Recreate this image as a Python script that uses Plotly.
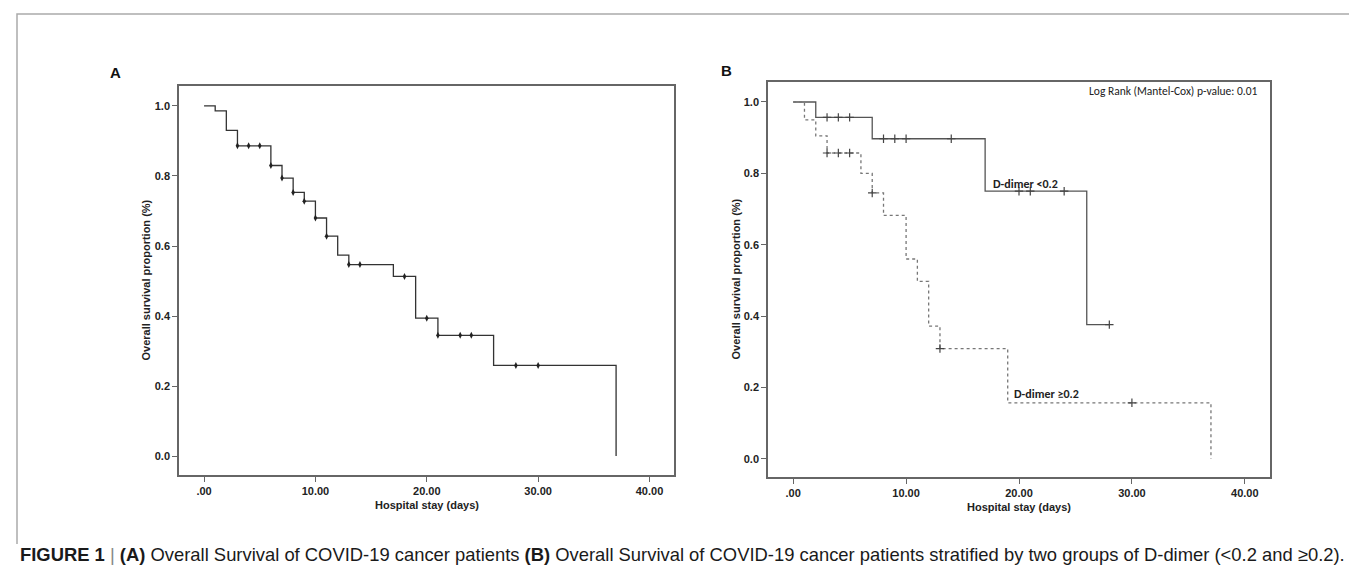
import plotly.graph_objects as go

# ---------------- data ----------------
# Panel A: overall survival (Kaplan-Meier step points)
a_time = [0, 1, 2, 3, 6, 7, 8, 9, 10, 11, 12, 13, 17, 19, 21, 26, 37]
a_surv = [1.0, 0.986, 0.93, 0.886, 0.83, 0.794, 0.753, 0.728, 0.68, 0.628,
          0.574, 0.547, 0.513, 0.394, 0.345, 0.259, 0.0]
a_cens = [3, 4, 5, 6, 7, 8, 9, 10, 11, 13, 14, 18, 20, 21, 23, 24, 28, 30]

# Panel B: D-dimer < 0.2
low_time = [0, 2, 7, 17, 26, 28]
low_surv = [1.0, 0.957, 0.897, 0.75, 0.376, 0.376]
low_cens = [3, 4, 5, 8, 9, 10, 14, 20, 21, 24, 28]

# Panel B: D-dimer >= 0.2
high_time = [0, 1, 2, 3, 6, 7, 8, 10, 11, 12, 13, 19, 37]
high_surv = [1.0, 0.95, 0.905, 0.857, 0.80, 0.745, 0.682, 0.56, 0.497,
             0.372, 0.309, 0.157, 0.0]
high_cens = [3, 4, 5, 7, 13, 30]

x_ticks = [0, 10, 20, 30, 40]
x_ticktext = [".00", "10.00", "20.00", "30.00", "40.00"]
y_ticks = [0, 0.2, 0.4, 0.6, 0.8, 1.0]
y_ticktext = ["0.0", "0.2", "0.4", "0.6", "0.8", "1.0"]


def step_value(times, surv, t):
    v = surv[0]
    for ti, si in zip(times, surv):
        if ti <= t:
            v = si
    return v


W, H = 1357, 575


def px(x):
    return x / W


def py(y):
    return 1 - y / H


fig = go.Figure()

# Panel A
fig.add_trace(go.Scatter(x=a_time, y=a_surv, mode="lines", line_shape="hv",
                         line=dict(color="#333333", width=1.3),
                         xaxis="x", yaxis="y", showlegend=False))
fig.add_trace(go.Scatter(x=a_cens, y=[step_value(a_time, a_surv, t) for t in a_cens],
                         mode="markers",
                         marker=dict(symbol="diamond-tall", size=5, color="#222222"),
                         xaxis="x", yaxis="y", showlegend=False))

# Panel B
fig.add_trace(go.Scatter(x=low_time, y=low_surv, mode="lines", line_shape="hv",
                         line=dict(color="#555555", width=1.3),
                         xaxis="x2", yaxis="y2", showlegend=False))
fig.add_trace(go.Scatter(x=low_cens, y=[step_value(low_time, low_surv, t) for t in low_cens],
                         mode="markers",
                         marker=dict(symbol="cross-thin", size=6,
                                     line=dict(color="#444444", width=1.2)),
                         xaxis="x2", yaxis="y2", showlegend=False))
fig.add_trace(go.Scatter(x=high_time, y=high_surv, mode="lines", line_shape="hv",
                         line=dict(color="#777777", width=1.3, dash="dot"),
                         xaxis="x2", yaxis="y2", showlegend=False))
fig.add_trace(go.Scatter(x=high_cens, y=[step_value(high_time, high_surv, t) for t in high_cens],
                         mode="markers",
                         marker=dict(symbol="cross-thin", size=6,
                                     line=dict(color="#444444", width=1.2)),
                         xaxis="x2", yaxis="y2", showlegend=False))

tickfont = dict(family="Liberation Sans, Arial", size=11, color="#222222", weight="bold")
axis_common = dict(showgrid=False, zeroline=False, showline=True, mirror=True,
                   linecolor="#666666", linewidth=1.5, ticks="outside",
                   ticklen=5, tickcolor="#666666", tickwidth=1.2,
                   tickfont=tickfont)

fig.update_layout(
    width=W, height=H,
    margin=dict(l=0, r=0, t=0, b=0),
    paper_bgcolor="white", plot_bgcolor="white",
    xaxis=dict(domain=[px(171), px(666)], anchor="y", range=[-2.25, 42.2],
               tickvals=x_ticks, ticktext=x_ticktext, **axis_common),
    yaxis=dict(domain=[py(467), py(78)], anchor="x", range=[-0.054, 1.057],
               tickvals=y_ticks, ticktext=y_ticktext, **axis_common),
    xaxis2=dict(domain=[px(760), px(1262)], anchor="y2", range=[-2.23, 42.23],
                tickvals=x_ticks, ticktext=x_ticktext, **axis_common),
    yaxis2=dict(domain=[py(469), py(74)], anchor="x2", range=[-0.051, 1.056],
                tickvals=y_ticks, ticktext=y_ticktext, **axis_common),
)

bold = dict(family="Liberation Sans, Arial", size=11, color="#222222")
ann = []
# panel letters
ann.append(dict(text="<b>A</b>", x=px(107), y=py(64), font=dict(family="Liberation Sans, Arial", size=15, color="#111111")))
ann.append(dict(text="<b>B</b>", x=px(718), y=py(63), font=dict(family="Liberation Sans, Arial", size=15, color="#111111")))
# axis titles
ann.append(dict(text="<b>Hospital stay (days)</b>", x=px(418.5), y=py(497), font=bold))
ann.append(dict(text="<b>Hospital stay (days)</b>", x=px(1011), y=py(499), font=bold))
ann.append(dict(text="<b>Overall survival proportion (%)</b>", x=px(138), y=py(272.5), textangle=-90, font=bold))
ann.append(dict(text="<b>Overall survival proportion (%)</b>", x=px(727), y=py(271.5), textangle=-90, font=bold))
# in-plot labels
calibri = "Carlito, Lato, Open Sans, sans-serif"
ann.append(dict(text="Log Rank (Mantel-Cox) p-value: 0.01", x=px(1252), y=py(83), xanchor="right",
                font=dict(family=calibri, size=11.5, color="#222222")))
ann.append(dict(text="<b>D-dimer &lt;0.2</b>", x=px(983), y=py(176), xanchor="left",
                font=dict(family=calibri, size=12, color="#222222")))
ann.append(dict(text="<b>D-dimer ≥0.2</b>", x=px(1004), y=py(386), xanchor="left",
                font=dict(family=calibri, size=12, color="#222222")))
# caption
caption = ("<b>FIGURE 1</b> <span style='color:#888888'>|</span> <b>(A)</b> Overall Survival of COVID-19 cancer patients "
           "<b>(B)</b> Overall Survival of COVID-19 cancer patients stratified by two groups of D-dimer (&lt;0.2 and ≥0.2).")
ann.append(dict(text=caption, x=px(10), y=py(546), xanchor="left",
                font=dict(family="Liberation Sans, Arial", size=18.4, color="#1a1a1a")))

for a in ann:
    a.setdefault("xanchor", "center")
    a.setdefault("yanchor", "middle")
    a.update(xref="paper", yref="paper", showarrow=False)
fig.update_layout(annotations=ann)

# outer frame
fig.add_shape(type="path", xref="paper", yref="paper",
              path=f"M {px(9)} {py(536)} L {px(9)} {py(6)} L {px(1350)} {py(6)} L {px(1350)} {py(536)}",
              line=dict(color="#aaaaaa", width=1.5))

fig.write_html("out.html")
